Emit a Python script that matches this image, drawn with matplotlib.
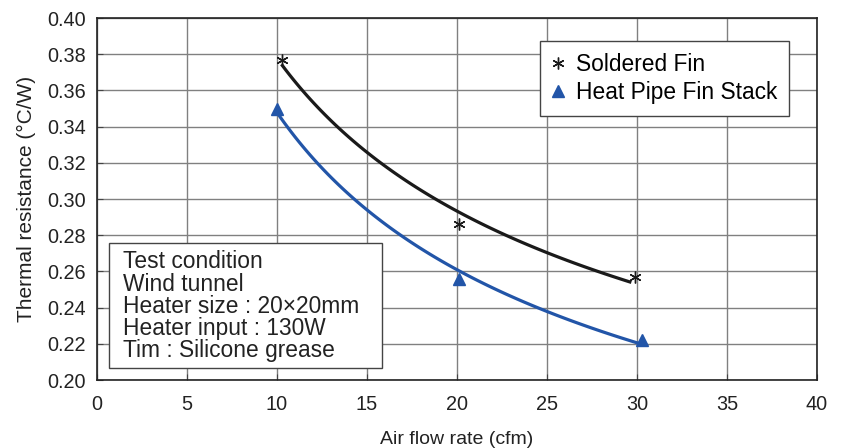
import numpy as np
import matplotlib
matplotlib.use('Agg')
import matplotlib.pyplot as plt
from matplotlib.patches import Rectangle

plt.rcParams['font.family'] = ['Liberation Sans', 'DejaVu Sans']

# data
soldered_x = [10.3, 20.1, 29.9]
soldered_y = [0.377, 0.286, 0.257]
heatpipe_x = [10.0, 20.1, 30.3]
heatpipe_y = [0.350, 0.256, 0.222]

xticks = [0, 5, 10, 15, 20, 25, 30, 35, 40]
yticks = [0.20, 0.22, 0.24, 0.26, 0.28, 0.30, 0.32, 0.34, 0.36, 0.38, 0.40]

condition_lines = ["Test condition", "Wind tunnel", "Heater size : 20\u00d720mm",
                   "Heater input : 130W", "Tim : Silicone grease"]

blue = '#2255a8'
dark = '#1a1a1a'


def power_fit(x, y):
    # power trend line, like a spreadsheet trendline
    b, loga = np.polyfit(np.log(x), np.log(y), 1)
    xs = np.linspace(min(x), max(x) - 0.3, 100)
    return xs, np.exp(loga) * xs ** b


fig = plt.figure(figsize=(8.42, 4.48), dpi=100)
ax = fig.add_axes([97 / 842, 1 - 380 / 448, 720 / 842, 362 / 448])

xs, ys = power_fit(soldered_x, soldered_y)
ax.plot(xs, ys, color=dark, lw=2.3, zorder=3)
xs, ys = power_fit(heatpipe_x, heatpipe_y)
ax.plot(xs, ys, color=blue, lw=2.3, zorder=3)

ax.plot(soldered_x, soldered_y, ls='none', marker=(6, 2, 0), ms=8.5, mew=1.0,
        color=dark, label='Soldered Fin', zorder=4)
ax.plot(heatpipe_x, heatpipe_y, ls='none', marker='^', ms=8,
        color=blue, label='Heat Pipe Fin Stack', zorder=4)

ax.set_xlim(0, 40)
ax.set_ylim(0.20, 0.40)
ax.set_xticks(xticks)
ax.set_yticks(yticks)
ax.set_yticklabels(['%.2f' % v for v in yticks])
ax.grid(True, color='#808080', lw=1.0)
ax.set_axisbelow(True)
ax.tick_params(direction='in', labelsize=14.3, length=4, color='#444444',
               labelcolor='#222222')
ax.tick_params(axis='x', pad=11)
ax.tick_params(axis='y', pad=8)
for s in ax.spines.values():
    s.set_color('#222222')
    s.set_linewidth(1.2)

ax.set_xlabel('Air flow rate (cfm)', fontsize=14, labelpad=12, color='#222222')
ax.set_ylabel('Thermal resistance (\u00b0C/W)', fontsize=15, labelpad=8, color='#222222')

leg = ax.legend(loc='upper right', bbox_to_anchor=(0.961, 0.936), fontsize=16.4,
                handlelength=0.6, handletextpad=0.5, frameon=True, fancybox=False,
                borderpad=0.5, labelspacing=0.25, borderaxespad=0)
leg.get_frame().set_edgecolor('#444444')
leg.get_frame().set_linewidth(1.0)
leg.get_frame().set_alpha(1)

# test condition box
ax.add_patch(Rectangle((0.0167, 0.033), 0.379, 0.345, transform=ax.transAxes,
                       fc='white', ec='#444444', lw=1.0, zorder=5))
ax.text(0.036, 0.358, '\n'.join(condition_lines), transform=ax.transAxes,
        fontsize=16.4, color='#222222', linespacing=0.95, va='top', ha='left',
        zorder=6)

fig.savefig('out.png', dpi=100)
